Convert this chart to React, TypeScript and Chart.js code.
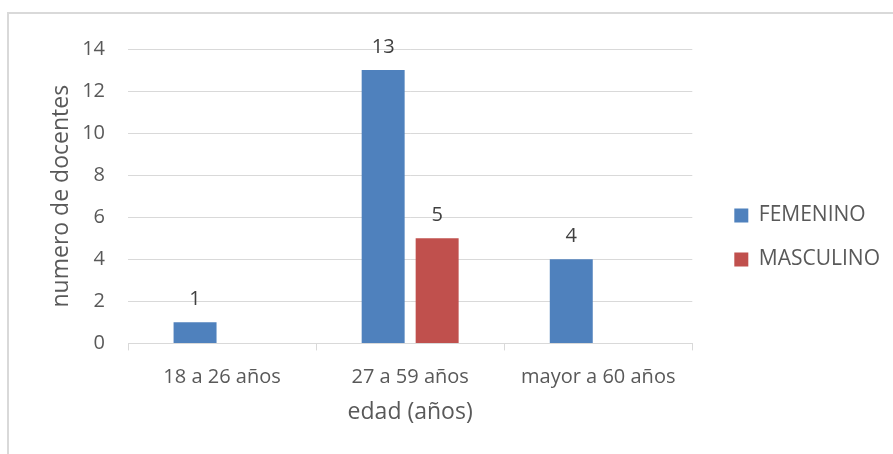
import React, { useEffect, useRef } from "react";
import { Chart, registerables } from "chart.js";

Chart.register(...registerables);

const categories = ["18 a 26 años", "27 a 59 años", "mayor a 60 años"];
const femenino = [1, 13, 4];
const masculino: (number | null)[] = [null, 5, null];
const seriesNames = ["FEMENINO", "MASCULINO"];
const yTitle = "numero de docentes";
const xTitle = "edad (años)";

const FONT = "'Open Sans', 'Noto Sans', sans-serif";
const TEXT = "#595959";
const GRID = "#D9D9D9";

const dataLabels = {
  id: "dataLabels",
  afterDatasetsDraw(chart: any) {
    const ctx = chart.ctx;
    ctx.save();
    ctx.font = `20px ${FONT}`;
    ctx.fillStyle = "#404040";
    ctx.textAlign = "center";
    ctx.textBaseline = "alphabetic";
    chart.data.datasets.forEach((ds: any, i: number) => {
      const meta = chart.getDatasetMeta(i);
      meta.data.forEach((bar: any, j: number) => {
        const v = ds.data[j];
        if (v === null || v === undefined) return;
        ctx.fillText(String(v), bar.x, bar.y - 17);
      });
    });
    ctx.restore();
  },
};

const legendShift = {
  id: "legendShift",
  afterLayout(chart: any) {
    const lg = chart.legend;
    if (!lg) return;
    lg.left += 19;
    lg.right += 19;
  },
};

export default function App() {
  const ref = useRef<HTMLCanvasElement>(null);
  useEffect(() => {
    if (!ref.current) return;
    const chart = new Chart(ref.current, {
      type: "bar",
      data: {
        labels: categories,
        datasets: [
          {
            label: seriesNames[0],
            data: femenino,
            backgroundColor: "#4F81BD",
            categoryPercentage: 0.574,
            barPercentage: 0.796,
          },
          {
            label: seriesNames[1],
            data: masculino,
            backgroundColor: "#C0504D",
            categoryPercentage: 0.574,
            barPercentage: 0.796,
          },
        ],
      },
      options: {
        responsive: false,
        animation: false,
        layout: { padding: { left: 43, top: 49, right: 22, bottom: 28 } },
        plugins: {
          tooltip: { enabled: false },
          legend: {
            position: "right",
            align: "center",
            labels: {
              font: { family: FONT, size: 21 },
              color: TEXT,
              boxWidth: 14,
              boxHeight: 14,
              padding: 23,
            },
          },
        },
        scales: {
          x: {
            offset: true,
            grid: {
              display: true,
              drawOnChartArea: false,
              drawTicks: true,
              tickLength: 7,
              color: GRID,
              offset: true,
            },
            border: { display: true, color: GRID },
            ticks: { font: { family: FONT, size: 20 }, color: TEXT, padding: 15 },
            title: {
              display: true,
              text: xTitle,
              font: { family: FONT, size: 23 },
              color: TEXT,
              padding: { top: -6, bottom: 0 },
            },
          },
          y: {
            min: 0,
            max: 14,
            afterFit(scale: any) {
              scale.width = 85;
            },
            ticks: { stepSize: 2, font: { family: FONT, size: 20 }, color: TEXT, padding: 23 },
            grid: { color: GRID, drawTicks: false },
            border: { display: false },
            title: {
              display: true,
              text: yTitle,
              font: { family: FONT, size: 23 },
              color: TEXT,
              padding: { top: 5, bottom: 0 },
            },
          },
        },
      },
      plugins: [dataLabels, legendShift],
    });
    return () => chart.destroy();
  }, []);

  return (
    <div style={{ position: "absolute", left: 0, top: 0, width: 893, height: 454, background: "#fff" }}>
      <div
        style={{
          position: "absolute",
          left: 7,
          top: 12,
          width: 900,
          height: 460,
          borderLeft: `2px solid ${GRID}`,
          borderTop: `2px solid ${GRID}`,
          boxSizing: "border-box",
        }}
      />
      <canvas ref={ref} width={893} height={454} style={{ position: "absolute", left: 0, top: 0 }} />
    </div>
  );
}
